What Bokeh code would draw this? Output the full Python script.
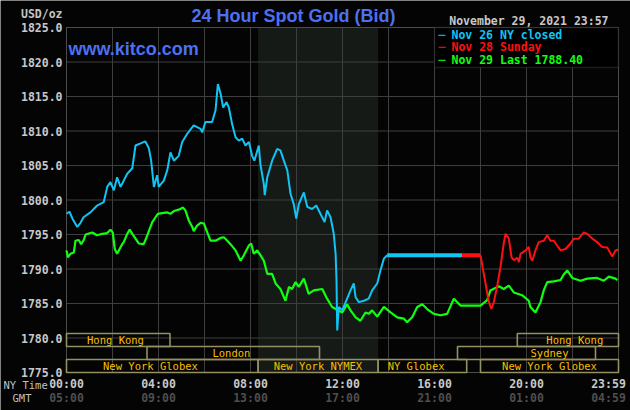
from bokeh.plotting import figure
from bokeh.models import Range1d, BoxAnnotation, Label, ColumnDataSource
from bokeh.core.properties import value
from bokeh.embed import file_html
from bokeh.resources import INLINE

# ---------------- data ----------------
title_text = "24 Hour Spot Gold (Bid)"
site_text = "www.kitco.com"
unit_text = "USD/oz"
stamp_text = "November 29, 2021 23:57"

y_ticks = [1775, 1780, 1785, 1790, 1795, 1800, 1805, 1810, 1815, 1820, 1825]
x_grid = [0, 2, 4, 6, 8, 10, 12, 14, 16, 18, 20, 22, 24]
x_tick_hours = [0, 4, 8, 12, 16, 20, 24]
ny_labels = ["00:00", "04:00", "08:00", "12:00", "16:00", "20:00", "23:59"]
gmt_labels = ["05:00", "09:00", "13:00", "17:00", "21:00", "01:00", "04:59"]

# Nov 26 (NY closed) - cyan
nov26_h = [0, 0.13, 0.26, 0.47, 0.61, 0.74, 1.04, 1.33, 1.62, 1.77, 1.91, 2.06, 2.20, 2.35,
           2.64, 2.86, 3.00, 3.22, 3.43, 3.58, 3.68, 3.80, 3.94, 4.01, 4.23, 4.38, 4.52,
           4.67, 4.88, 5.03, 5.25, 5.53, 5.83, 5.90, 6.04, 6.33, 6.48, 6.58, 6.70, 6.81,
           6.96, 7.06, 7.20, 7.35, 7.49, 7.64, 7.78, 7.93, 8.07, 8.17, 8.36, 8.43, 8.58,
           8.62, 8.73, 8.94, 9.16, 9.30, 9.45, 9.60, 9.74, 9.88, 9.99, 10.10, 10.32,
           10.47, 10.68, 10.86, 11.04, 11.22, 11.33, 11.48, 11.62, 11.70, 11.74, 11.77,
           11.84, 11.99, 12.20, 12.35, 12.49, 12.57, 12.71, 12.93, 13.14, 13.29, 13.51,
           13.65, 13.80, 13.94]
nov26_v = [1798.0, 1798.3, 1797.3, 1796.1, 1796.7, 1797.5, 1798.2, 1799.2, 1799.7, 1801.9,
           1802.6, 1801.4, 1803.3, 1801.9, 1803.8, 1804.6, 1807.9, 1808.2, 1808.5, 1807.5,
           1805.7, 1801.9, 1803.6, 1801.9, 1802.8, 1804.3, 1806.9, 1805.7, 1806.4, 1808.4,
           1809.6, 1810.8, 1810.3, 1809.8, 1811.3, 1811.3, 1813.0, 1816.8, 1815.4, 1813.4,
           1814.2, 1813.4, 1811.0, 1809.1, 1808.6, 1808.9, 1807.9, 1808.4, 1806.4, 1805.7,
           1807.9, 1805.2, 1802.3, 1800.7, 1803.3, 1805.7, 1807.4, 1807.2, 1805.7, 1804.3,
           1800.9, 1799.4, 1797.3, 1799.4, 1801.1, 1799.0, 1798.7, 1799.2, 1798.0, 1796.8,
           1798.5, 1797.5, 1795.1, 1792.2, 1788.3, 1781.1, 1784.5, 1784.0, 1785.7, 1786.9,
           1787.9, 1785.9, 1785.2, 1785.4, 1785.7, 1786.9, 1787.9, 1789.8, 1791.5, 1792.0]
nov26_close_h = [13.94, 17.2]
nov26_close_v = [1792.0, 1792.0]

# Nov 28 (Sunday) - red
nov28_h = [17.2, 18.0, 18.09, 18.22, 18.35, 18.47, 18.58, 18.73, 18.87, 19.01, 19.09, 19.23,
           19.35, 19.45, 19.60, 19.67, 19.74, 19.96, 20.10, 20.17, 20.25, 20.39, 20.53,
           20.75, 20.90, 21.04, 21.19, 21.33, 21.48, 21.70, 21.91, 22.06, 22.27, 22.49,
           22.64, 22.86, 23.07, 23.29, 23.51, 23.73, 23.87, 23.98]
nov28_v = [1792.0, 1792.0, 1790.3, 1787.9, 1785.4, 1784.2, 1785.2, 1787.6, 1790.3, 1793.7,
           1795.1, 1794.4, 1791.7, 1791.3, 1791.6, 1791.0, 1792.2, 1792.7, 1793.2, 1791.7,
           1791.2, 1792.7, 1793.9, 1794.1, 1794.9, 1794.1, 1794.1, 1793.4, 1792.7, 1792.9,
           1793.7, 1794.4, 1794.4, 1795.3, 1795.1, 1794.4, 1793.9, 1793.2, 1793.1, 1791.8,
           1792.7, 1792.8]

# Nov 29 (Last 1788.40) - green
nov29_h = [0, 0.06, 0.17, 0.32, 0.39, 0.53, 0.64, 0.75, 0.83, 1.12, 1.33, 1.55, 1.77, 1.91,
           2.01, 2.10, 2.20, 2.42, 2.49, 2.64, 2.75, 2.86, 3.00, 3.14, 3.36, 3.48, 3.58,
           3.73, 3.87, 3.97, 4.16, 4.38, 4.52, 4.67, 4.88, 5.07, 5.17, 5.32, 5.47, 5.53,
           5.68, 5.83, 5.97, 6.12, 6.26, 6.48, 6.70, 6.84, 6.99, 7.13, 7.35, 7.57, 7.71,
           7.93, 8.03, 8.14, 8.29, 8.43, 8.58, 8.73, 8.94, 9.09, 9.30, 9.52, 9.67, 9.81,
           9.96, 10.10, 10.32, 10.53, 10.75, 11.12, 11.33, 11.55, 11.77, 11.99, 12.20,
           12.35, 12.57, 12.78, 13.00, 13.14, 13.29, 13.51, 13.80, 14.09, 14.38, 14.67,
           14.81, 15.03, 15.25, 15.47, 15.68, 15.97, 16.26, 16.55, 16.84, 17.13, 18.00,
           18.29, 18.43, 18.80, 19.01, 19.23, 19.45, 19.81, 20.10, 20.17, 20.39, 20.61,
           20.75, 20.90, 21.19, 21.48, 21.62, 21.77, 21.99, 22.35, 22.64, 23.07, 23.36,
           23.58, 23.87, 23.95]
nov29_v = [1792.7, 1791.7, 1792.2, 1792.4, 1794.1, 1794.2, 1793.6, 1794.2, 1795.0, 1795.3,
           1794.9, 1795.1, 1795.2, 1795.7, 1795.3, 1792.9, 1792.2, 1793.6, 1793.9, 1795.1,
           1795.7, 1795.1, 1794.4, 1793.7, 1793.6, 1794.6, 1795.5, 1796.8, 1797.5, 1798.0,
           1798.1, 1798.2, 1798.0, 1798.4, 1798.6, 1798.9, 1798.5, 1797.0, 1796.1, 1795.5,
           1796.3, 1796.7, 1796.6, 1795.3, 1794.1, 1794.1, 1794.5, 1794.6, 1794.1, 1793.6,
           1792.7, 1791.2, 1792.0, 1793.4, 1793.7, 1792.2, 1792.7, 1792.0, 1791.2, 1789.3,
           1789.3, 1787.9, 1787.1, 1785.4, 1787.4, 1787.1, 1788.1, 1787.4, 1788.6, 1786.4,
           1786.9, 1787.1, 1785.7, 1784.5, 1784.1, 1783.7, 1784.9, 1784.0, 1783.0, 1782.5,
           1783.7, 1783.5, 1784.0, 1783.1, 1784.5, 1783.7, 1783.0, 1782.8, 1782.3, 1783.0,
           1784.5, 1784.9, 1784.2, 1783.5, 1783.3, 1783.5, 1785.7, 1784.7, 1784.7, 1785.5,
           1786.9, 1787.5, 1787.1, 1787.6, 1786.6, 1786.2, 1785.4, 1784.5, 1783.7, 1785.2,
           1786.9, 1788.1, 1788.2, 1788.4, 1789.2, 1789.8, 1788.7, 1788.3, 1788.6, 1788.7,
           1788.3, 1788.9, 1788.6, 1788.4]

legend_labels = ["Nov 26 NY closed", "Nov 28 Sunday", "Nov 29 Last 1788.40"]
legend_colors = ["#10c4f4", "#ff1010", "#10ff10"]

# market sessions (NY time hours), row 0 = top
session_names = ["Hong Kong", "London", "New York Globex", "New York NYMEX", "NY Globex",
                 "New York Globex", "Sydney", "Hong Kong"]
session_start = [0, 3.5, 0, 8.33, 13.55, 18.0, 17.0, 19.6]
session_end = [4.5, 11.0, 8.33, 13.55, 17.4, 24, 23.0, 24]
session_row = [0, 1, 2, 2, 2, 2, 1, 0]
session_label_h = [2.13, 7.17, 3.65, 10.93, 15.2, 21.0, 21.0, 22.1]

nymex_shade = (8.33, 13.55)

# ---------------- layout ----------------
W, H = 630, 410
LEFT, RIGHT, TOP, BOTTOM = 66, 12, 27, 38          # margins around the chart box (px)
X0, X1 = x_grid[0], x_grid[-1]
Y0, Y1 = y_ticks[0], y_ticks[-1]
px_x = (W - LEFT - RIGHT) / (X1 - X0)              # px per hour
px_y = (H - TOP - BOTTOM) / (Y1 - Y0)              # px per USD

BG = "#040404"
GRID = "#3e3e3e"
MONO = "DejaVu Sans Mono"

# the frame covers the whole canvas so that every text can be drawn in it
p = figure(width=W, height=H,
           x_range=Range1d(X0 - LEFT / px_x, X1 + RIGHT / px_x),
           y_range=Range1d(Y0 - BOTTOM / px_y, Y1 + TOP / px_y),
           output_backend="svg", toolbar_location=None,
           x_axis_location=None, y_axis_location=None,
           min_border=0)
p.title.visible = False
p.grid.visible = False
p.background_fill_color = BG
p.border_fill_color = BG
p.outline_line_color = None

# NYMEX shaded band
p.quad(left=[nymex_shade[0]], right=[nymex_shade[1]], bottom=[Y0], top=[Y1],
       fill_color="#161a16", line_color=None)

# grid
p.segment(x0=x_grid, x1=x_grid, y0=[Y0] * len(x_grid), y1=[Y1] * len(x_grid),
          line_color=GRID, line_width=1)
p.segment(x0=[X0] * len(y_ticks), x1=[X1] * len(y_ticks), y0=y_ticks, y1=y_ticks,
          line_color=GRID, line_width=1)
p.quad(left=[X0], right=[X1], bottom=[Y0], top=[Y1], fill_color=None,
       line_color="#4c4c4c", line_width=1)

# y tick labels
p.text(x=[X0] * len(y_ticks), y=y_ticks, text=["%.1f" % t for t in y_ticks],
       x_offset=-4, text_align="right", text_baseline="middle",
       text_font=value(MONO), text_font_style="bold", text_font_size=value("11.5px"),
       text_color="#c8c8c8")

# time labels (the 23:59 label is nudged left to stay inside the canvas)
nudge = [0] * (len(x_tick_hours) - 1) + [-10]
p.text(x=x_tick_hours, y=[Y0] * len(x_tick_hours), text=ny_labels, x_offset=nudge,
       y_offset=11, text_align="center", text_baseline="middle",
       text_font=value(MONO), text_font_style="bold", text_font_size=value("11.5px"),
       text_color="#c8c8c8")
p.text(x=x_tick_hours, y=[Y0] * len(x_tick_hours), text=gmt_labels, x_offset=nudge,
       y_offset=25, text_align="center", text_baseline="middle",
       text_font=value(MONO), text_font_style="bold", text_font_size=value("11.5px"),
       text_color="#4e4e4e")

# market session boxes
rh = 13 / px_y  # row height in price units
row_top = [Y0 + (3 - r) * rh for r in session_row]
row_bot = [Y0 + (2 - r) * rh for r in session_row]
row_mid = [(a + b) / 2 for a, b in zip(row_top, row_bot)]
src = ColumnDataSource(dict(left=session_start, right=session_end, top=row_top, bottom=row_bot,
                            name=session_names, lx=session_label_h, ly=row_mid))
p.quad(left="left", right="right", top="top", bottom="bottom", source=src,
       fill_color=None, line_color="#959061", line_width=1.6)
p.text(x="lx", y="ly", text="name", source=src, text_font=value(MONO),
       text_font_size=value("10.5px"), text_color="#f7bf00", text_align="center",
       text_baseline="middle")

# price lines
p.line(nov29_h, nov29_v, line_color=legend_colors[2], line_width=2.2)
p.line(nov26_h, nov26_v, line_color=legend_colors[0], line_width=2)
p.line(nov26_close_h, nov26_close_v, line_color=legend_colors[0], line_width=4)
p.line(nov28_h[:2], nov28_v[:2], line_color=legend_colors[1], line_width=4)
p.line(nov28_h[1:], nov28_v[1:], line_color=legend_colors[1], line_width=2)

# legend box
p.add_layout(BoxAnnotation(left=16, right=X1, top=Y1, bottom=Y1 - 40 / px_y,
                           fill_color="#000000", fill_alpha=1.0, line_color="#5a5a5a",
                           line_width=1.5))
for i, (lab, col) in enumerate(zip(legend_labels, legend_colors)):
    yo = -7 - 12.6 * i
    p.add_layout(Label(x=16, y=Y1, x_offset=4, y_offset=yo, text="\u2500", text_color=col,
                       text_font=MONO, text_font_style="bold", text_font_size="11.5px",
                       text_baseline="middle"))
    p.add_layout(Label(x=16, y=Y1, x_offset=17, y_offset=yo, text=lab, text_color=col,
                       text_font=MONO, text_font_style="bold", text_font_size="11.5px",
                       text_baseline="middle"))

# other texts (offsets in px from the chart box corners; positive y_offset = up)
texts = [
    (title_text, 9.87, Y1, 0, 12, "center", "#4d70f2", "Liberation Sans", "bold", "18px"),
    (site_text, X0, Y1, 2, -21, "left", "#4d70f2", "Liberation Sans", "bold", "18px"),
    (unit_text, X0, Y1, -4, 13.5, "right", "#c4c4c4", MONO, "bold", "11.5px"),
    (stamp_text, X1, Y1, -10, 7, "right", "#c8c8c8", MONO, "bold", "11.5px"),
    ("NY Time", X0, Y0, -63, -12.5, "left", "#c0c0c0", MONO, "normal", "10.5px"),
    ("GMT", X0, Y0, -54, -25, "left", "#c0c0c0", MONO, "normal", "10.5px"),
]
for txt, x, y, xo, yo, al, col, fnt, sty, size in texts:
    p.add_layout(Label(x=x, y=y, x_offset=xo, y_offset=yo, text=txt,
                       text_color=col, text_font=fnt, text_font_style=sty,
                       text_font_size=size, text_align=al, text_baseline="middle"))

open("out.html", "w").write(file_html(p, INLINE))
